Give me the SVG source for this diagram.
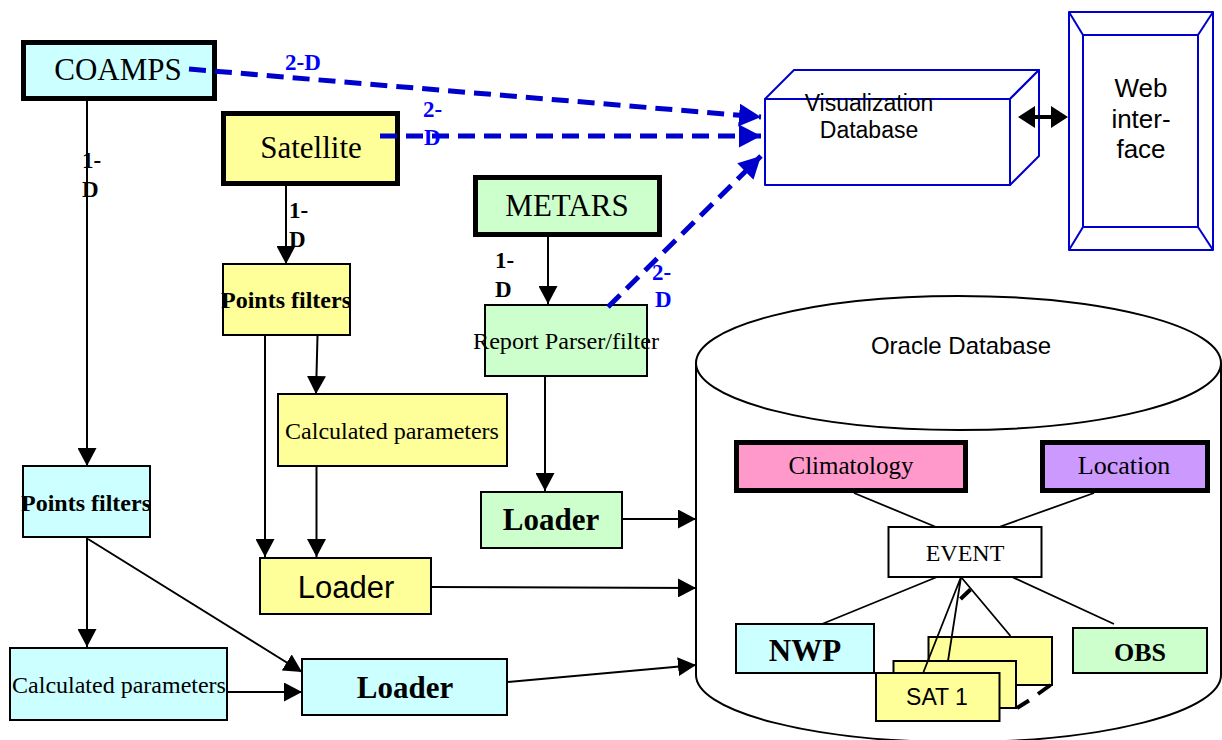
<svg xmlns="http://www.w3.org/2000/svg" width="1222" height="740" viewBox="0 0 1222 740">
<style>
.serif{font-family:"Liberation Serif","Times New Roman",serif;fill:#000}
.sans{font-family:"Liberation Sans",Arial,sans-serif;fill:#000}
.thick{stroke:#000;stroke-width:5}
.thin{stroke:#000;stroke-width:2}
.cyan{fill:#CCFFFF}
.yellow{fill:#FFFF99}
.green{fill:#CCFFCC}
.blue3d{fill:#fff;stroke:#0000CC;stroke-width:2;stroke-linejoin:round}
.conn{stroke:#000;stroke-width:2;fill:none}
.dash2d{stroke:#0000CC;stroke-width:5;stroke-dasharray:17 9;fill:none}
.lbl1{font-family:"Liberation Serif","Times New Roman",serif;font-weight:bold;font-size:23px;fill:#000}
.lbl2{font-family:"Liberation Serif","Times New Roman",serif;font-weight:bold;font-size:23px;fill:#0000FF}
.inner{stroke:#000;stroke-width:1.8;fill:none}
</style>
<defs>
<marker id="ah" markerUnits="userSpaceOnUse" viewBox="0 0 18 19" refX="18" refY="9.5" markerWidth="18" markerHeight="19" orient="auto"><path d="M0,0 L18,9.5 L0,19 z" fill="#000"/></marker>
<marker id="ahb" markerUnits="userSpaceOnUse" viewBox="0 0 22 23" refX="22" refY="11.5" markerWidth="22" markerHeight="23" orient="auto"><path d="M0,0 L22,11.5 L0,23 z" fill="#0000CC"/></marker>
</defs>
<rect width="1222" height="740" fill="#fff"/>

<g id="oracle-db">
<path d="M696,363 L696,675 A262.5,67 0 0 0 1221,675 L1221,363" fill="#fff" stroke="#000" stroke-width="2"/>
<ellipse cx="958.5" cy="363" rx="262.5" ry="67" fill="#fff" stroke="#000" stroke-width="2"/>
<text class="sans" x="961" y="354" font-size="24" text-anchor="middle">Oracle Database</text>
</g>

<g id="coamps">
<rect x="23.5" y="42.5" width="191" height="56" class="cyan thick"/>
<text class="serif" x="118" y="80" font-size="31" text-anchor="middle">COAMPS</text>
</g>
<g id="satellite">
<rect x="223.5" y="113.5" width="174" height="70" class="yellow thick"/>
<text class="serif" x="311" y="158" font-size="31" text-anchor="middle">Satellite</text>
</g>
<g id="metars">
<rect x="475.5" y="177.5" width="184" height="57" class="green thick"/>
<text class="serif" x="567" y="216" font-size="31" text-anchor="middle">METARS</text>
</g>

<g id="vis-db">
<rect x="765" y="99" width="245" height="86" class="blue3d"/>
<polygon points="765,99 794,70 1039,70 1010,99" class="blue3d"/>
<polygon points="1010,99 1039,70 1039,156 1010,185" class="blue3d"/>
<text class="sans" x="869" y="111" font-size="23" text-anchor="middle">Visualization</text>
<text class="sans" x="869" y="138" font-size="23" text-anchor="middle">Database</text>
</g>

<g id="web">
<rect x="1069" y="12" width="144" height="238" class="blue3d"/>
<rect x="1083" y="35" width="115" height="192" class="blue3d"/>
<path d="M1069,12 L1083,35 M1213,12 L1198,35 M1069,250 L1083,227 M1213,250 L1198,227" stroke="#0000CC" stroke-width="2"/>
<text class="sans" x="1141" y="97" font-size="26" text-anchor="middle">Web</text>
<text class="sans" x="1141" y="128" font-size="26" text-anchor="middle">inter-</text>
<text class="sans" x="1141" y="158" font-size="26" text-anchor="middle">face</text>
</g>

<g id="sat-points-filters">
<rect x="223" y="264" width="127" height="71" class="yellow thin"/>
<text class="serif" x="286" y="308" font-size="24" font-weight="bold" text-anchor="middle">Points filters</text>
</g>
<g id="sat-calc">
<rect x="278" y="394" width="229" height="72" class="yellow thin"/>
<text class="serif" x="392" y="439" font-size="24" text-anchor="middle">Calculated parameters</text>
</g>
<g id="sat-loader">
<rect x="260" y="558" width="171" height="56" class="yellow thin"/>
<text class="sans" x="346" y="598" font-size="31" text-anchor="middle">Loader</text>
</g>

<g id="report-parser">
<rect x="485" y="305" width="162" height="71" class="green thin"/>
<text class="serif" x="566" y="349" font-size="24" text-anchor="middle" textLength="186" lengthAdjust="spacingAndGlyphs">Report Parser/filter</text>
</g>
<g id="metars-loader">
<rect x="481" y="492" width="141" height="56" class="green thin"/>
<text class="serif" x="551" y="530" font-size="31" font-weight="bold" text-anchor="middle">Loader</text>
</g>

<g id="coamps-points-filters">
<rect x="23" y="466" width="127" height="71" class="cyan thin"/>
<text class="serif" x="86" y="511" font-size="24" font-weight="bold" text-anchor="middle">Points filters</text>
</g>
<g id="coamps-calc">
<rect x="10" y="648" width="217" height="72" class="cyan thin"/>
<text class="serif" x="119" y="693" font-size="24" text-anchor="middle">Calculated parameters</text>
</g>
<g id="coamps-loader">
<rect x="302" y="659" width="205" height="56" class="cyan thin"/>
<text class="serif" x="405" y="698" font-size="31" font-weight="bold" text-anchor="middle">Loader</text>
</g>

<g id="climatology">
<rect x="736.5" y="442.5" width="229" height="48" fill="#FF99CC" class="thick"/>
<text class="serif" x="851" y="474" font-size="25" text-anchor="middle">Climatology</text>
</g>
<g id="location">
<rect x="1042.5" y="442.5" width="165" height="48" fill="#CC99FF" class="thick"/>
<text class="serif" x="1124" y="474" font-size="26" text-anchor="middle">Location</text>
</g>
<g id="event">
<rect x="888.5" y="527" width="153" height="50" fill="#fff" class="thin"/>
<text class="serif" x="965" y="561" font-size="24" text-anchor="middle">EVENT</text>
</g>
<g id="nwp">
<rect x="736" y="624" width="138" height="49" class="cyan thin"/>
<text class="serif" x="805" y="661" font-size="31" font-weight="bold" text-anchor="middle">NWP</text>
</g>
<g id="obs">
<rect x="1073" y="628" width="134" height="45" class="green thin"/>
<text class="serif" x="1140" y="661" font-size="26" font-weight="bold" text-anchor="middle">OBS</text>
</g>
<g id="sat-stack">
<rect x="928.5" y="637" width="123.5" height="48" class="yellow thin"/>
<rect x="893.5" y="661" width="122.5" height="47" class="yellow thin"/>
<rect x="876" y="673" width="123.5" height="48" class="yellow thin"/>
<text class="sans" x="937" y="705" font-size="23" text-anchor="middle">SAT 1</text>
<path d="M960.5,599 L970.5,589.5 M1017,708 L1029,700.5 M1038,694 L1050.5,685" stroke="#000" stroke-width="4"/>
</g>

<g id="connectors">
<path class="conn" d="M87,101 L87,466" marker-end="url(#ah)"/>
<path class="conn" d="M286,186 L286,264" marker-end="url(#ah)"/>
<path class="conn" d="M265,336 L265,557" marker-end="url(#ah)"/>
<path class="conn" d="M317.5,336 L316,394" marker-end="url(#ah)"/>
<path class="conn" d="M316.5,466 L316.5,557" marker-end="url(#ah)"/>
<path class="conn" d="M431,587 L696,588" marker-end="url(#ah)"/>
<path class="conn" d="M548,237 L548,304" marker-end="url(#ah)"/>
<path class="conn" d="M545,376 L545,491" marker-end="url(#ah)"/>
<path class="conn" d="M622,519 L696,519" marker-end="url(#ah)"/>
<path class="conn" d="M87,538 L87,647" marker-end="url(#ah)"/>
<path class="conn" d="M88,539 L302,672" marker-end="url(#ah)"/>
<path class="conn" d="M228,692 L302,692" marker-end="url(#ah)"/>
<path class="conn" d="M507,682 L696,665" marker-end="url(#ah)"/>
<path class="dash2d" d="M189,69 L761,117" marker-end="url(#ahb)"/>
<path class="dash2d" d="M380,136 L761,136" marker-end="url(#ahb)"/>
<path class="dash2d" d="M608,307 L761,156" marker-end="url(#ahb)"/>
<path d="M1018,117 L1035,106 L1035,115 L1051,115 L1051,106 L1068,117 L1051,128 L1051,119 L1035,119 L1035,128 Z" fill="#000"/>
<path class="inner" d="M854,493 L936,527 M1094,493 L999,527 M937,577 L822,624 M1012,577 L1114,624 M961,577 L923.5,672 M961,577 L948,661 M961,577 L1010.5,636"/>
<text class="lbl1" x="82" y="168">1-</text>
<text class="lbl1" x="82" y="197">D</text>
<text class="lbl1" x="289" y="218">1-</text>
<text class="lbl1" x="289" y="247">D</text>
<text class="lbl1" x="495" y="268">1-</text>
<text class="lbl1" x="495" y="297">D</text>
<text class="lbl2" x="285" y="70">2-D</text>
<text class="lbl2" x="423" y="117">2-</text>
<text class="lbl2" x="424" y="145">D</text>
<text class="lbl2" x="652" y="280">2-</text>
<text class="lbl2" x="655" y="307">D</text>
</g>
</svg>
